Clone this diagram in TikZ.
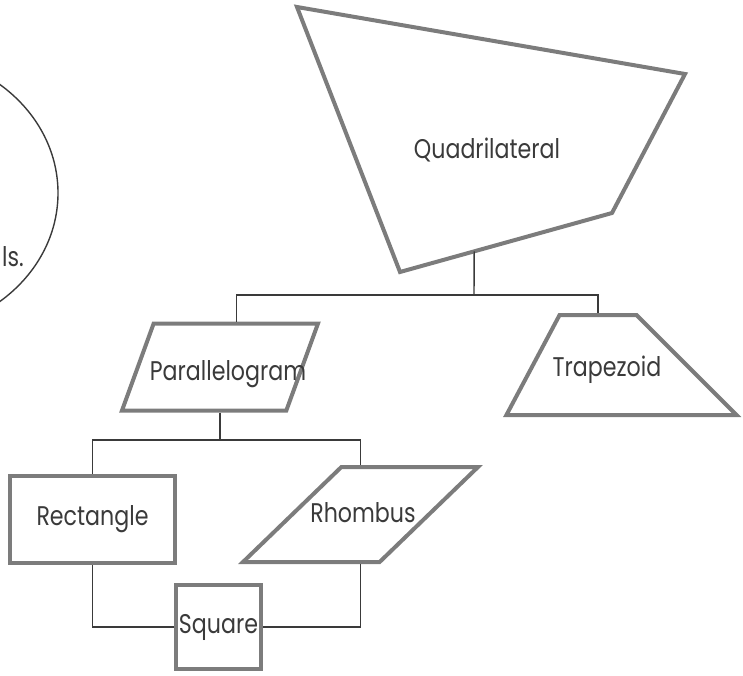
\documentclass[tikz,border=0pt]{standalone}
\usepackage{fontspec}
\setmainfont{Poppins}[FakeStretch=0.82]
\usepackage{xcolor}
\usetikzlibrary{shapes.geometric}
\usetikzlibrary{calc}
\definecolor{edgegray}{HTML}{7C7C7C}
\definecolor{inkgray}{HTML}{3A3A3A}
\tikzset{
	figtext/.style={text=inkgray, font=\fontsize{27}{30}\selectfont},
	figbox/.style={figtext, draw=edgegray, line width=4pt, inner sep=0pt},
	slant/.style={figbox, trapezium, trapezium stretches body},
	link/.style={draw=inkgray, line width=1.4pt},
}

\begin{document}
\begin{tikzpicture}[x=1pt, y=-1pt]
	\useasboundingbox (0,0) rectangle (743,676);
	% round note on the left, cut by the page
	\begin{scope}
		\clip (0,0) rectangle (743,676);
		\draw[link] (-100,193) ellipse [x radius=158, y radius=140];
	\end{scope}
	\node[figtext, anchor=east, inner sep=0pt] (note) at (24,257) {ls.};

	% top shape
	\coordinate (q1) at (297,7);
	\coordinate (q2) at (685,74);
	\coordinate (q3) at (612,213);
	\coordinate (q4) at (400,272);
	\draw[figbox] (q1) -- (q2) -- (q3) -- (q4) -- cycle;
	\node[figtext] (quad) at (487,150) {Quadrilateral};
	\coordinate (quadfoot) at ($(q4)!0.35!(q3)$);

	% slanted shapes, texts set on top
	\node[slant, trapezium left angle=70, trapezium right angle=110, inner ysep=43.5pt, minimum width=196] (para) at (220,367) {};
	\node[figtext] (paratext) at (228,374) {Parallelogram};
	\node[slant, trapezium left angle=62, trapezium right angle=45, inner ysep=50pt, minimum width=230] (trap) at (598,365) {};
	\node[figtext] (traptext) at (607,370) {Trapezoid};
	\node[slant, trapezium left angle=44, trapezium right angle=136, inner ysep=47.5pt, minimum width=235] (rhomb) at (360.5,514.5) {};
	\node[figtext] (rhombtext) at (363,513) {Rhombus};

	\node[figbox, minimum width=165, minimum height=87] (rect) at (92.5,519.5) {Rectangle};
	\node[figbox, minimum width=85, minimum height=84] (sq) at (218.5,627) {Square};

	\coordinate (fork1) at (474,295);
	\coordinate (fork2) at (220,440);
	\draw[link] (quadfoot) -- (fork1);
	\draw[link] (para.top side) |- (fork1) -| (trap.top side);
	\draw[link] (para.south) -- (fork2);
	\draw[link] (rect.north) |- (fork2) -| (rhomb.north);
	\draw[link] (rect.south) |- (sq.west);
	\draw[link] (rhomb.south) |- (sq.east);
\end{tikzpicture}
\end{document}
